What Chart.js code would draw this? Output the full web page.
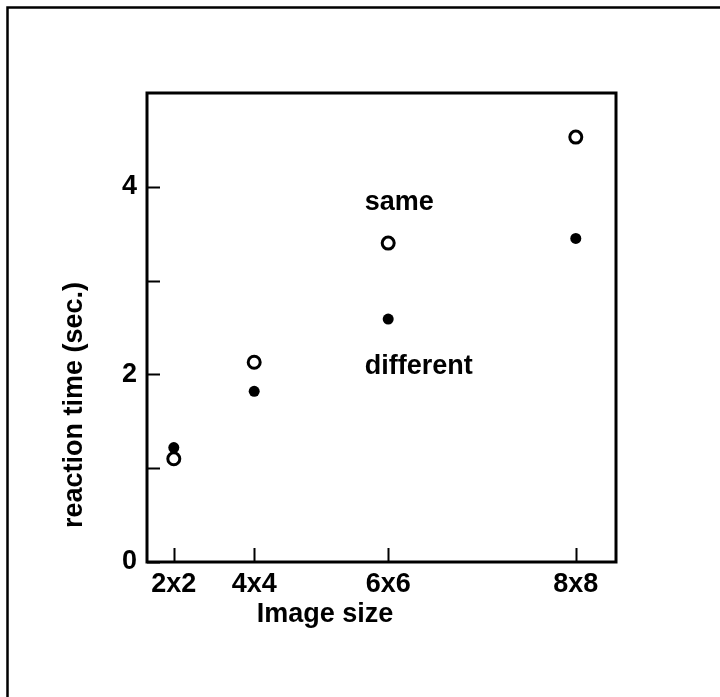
<!DOCTYPE html>
<html>
<head>
<meta charset="utf-8">
<style>
  html, body { margin: 0; padding: 0; background: #fff; }
  #wrap { position: relative; width: 720px; height: 697px; }
</style>
<script src="https://cdn.jsdelivr.net/npm/chart.js@4/dist/chart.umd.min.js"></script>
</head>
<body>
<div id="wrap"><canvas id="c" width="720" height="697"></canvas></div>
<script>
// ---- data ----
const categories = ['2x2', '4x4', '6x6', '8x8'];
const pixelCounts = [4, 16, 36, 64];          // x position = number of pixels in the image
const sameValues = [1.10, 2.13, 3.40, 4.53];  // open circles
const differentValues = [1.22, 1.82, 2.59, 3.45]; // filled circles
const yTickValues = [0, 1, 2, 3, 4];
const yTickLabels = ['0', '', '2', '', '4'];
const xTitle = 'Image size';
const yTitle = 'reaction time (sec.)';
const seriesLabels = ['same', 'different'];
const seriesLabelAnchors = [[32.5, 3.75], [32.5, 2.00]]; // data coords (left, baseline)

const FONT = 'bold 27px "Liberation Sans", Arial, Helvetica, sans-serif';

const framePlugin = {
  id: 'frame',
  afterDraw(chart) {
    const ctx = chart.ctx;
    const a = chart.chartArea;
    const xs = chart.scales.x, ys = chart.scales.y;
    ctx.save();
    // outer page frame (top and left visible)
    ctx.strokeStyle = '#000';
    ctx.lineWidth = 2.5;
    ctx.beginPath();
    ctx.moveTo(7.5, 730); ctx.lineTo(7.5, 7.5); ctx.lineTo(760, 7.5);
    ctx.stroke();
    // plot frame
    ctx.lineWidth = 3;
    ctx.strokeRect(a.left, a.top, a.right - a.left, a.bottom - a.top);
    // inward ticks
    ctx.lineWidth = 2;
    ctx.beginPath();
    yTickValues.forEach(v => {
      const y = Math.round(ys.getPixelForValue(v)) + 0.5;
      ctx.moveTo(a.left, y); ctx.lineTo(a.left + 13, y);
    });
    pixelCounts.forEach(v => {
      const x = Math.round(xs.getPixelForValue(v)) + 0.5;
      ctx.moveTo(x, a.bottom); ctx.lineTo(x, a.bottom - 14);
    });
    ctx.stroke();
    // text
    ctx.fillStyle = '#000';
    ctx.font = FONT;
    ctx.textAlign = 'left';
    ctx.textBaseline = 'alphabetic';
    seriesLabels.forEach((t, i) => {
      const [dx, dy] = seriesLabelAnchors[i];
      ctx.fillText(t, xs.getPixelForValue(dx), ys.getPixelForValue(dy));
    });
    ctx.textAlign = 'center';
    ctx.fillText(xTitle, 325, 622);
    ctx.translate(82, 405);
    ctx.rotate(-Math.PI / 2);
    ctx.fillText(yTitle, 0, 0);
    ctx.restore();
  }
};

new Chart(document.getElementById('c'), {
  type: 'scatter',
  data: {
    datasets: [
      {
        label: seriesLabels[0],
        data: pixelCounts.map((x, i) => ({ x, y: sameValues[i] })),
        pointRadius: 6,
        pointBorderWidth: 3,
        pointBorderColor: '#000',
        pointBackgroundColor: '#fff',
        pointHoverRadius: 6,
        showLine: false
      },
      {
        label: seriesLabels[1],
        data: pixelCounts.map((x, i) => ({ x, y: differentValues[i] })),
        pointRadius: 5.5,
        pointBorderWidth: 0,
        pointBorderColor: '#000',
        pointBackgroundColor: '#000',
        pointHoverRadius: 5.5,
        showLine: false
      }
    ]
  },
  options: {
    responsive: false,
    animation: false,
    events: [],
    layout: { padding: { left: 0, top: 93, right: 104, bottom: 0 } },
    plugins: { legend: { display: false }, tooltip: { enabled: false } },
    scales: {
      x: {
        type: 'linear',
        min: 0, max: 70,
        grid: { display: false, drawTicks: false },
        border: { display: false },
        afterBuildTicks(scale) { scale.ticks = pixelCounts.map(v => ({ value: v })); },
        afterFit(scale) { scale.height = 135; },
        ticks: {
          padding: 6,
          color: '#000',
          font: { family: '"Liberation Sans", Arial, Helvetica, sans-serif', size: 27, weight: 'bold' },
          maxRotation: 0,
          autoSkip: false,
          callback: (v) => categories[pixelCounts.indexOf(v)] ?? ''
        }
      },
      y: {
        type: 'linear',
        min: 0, max: 5,
        grid: { display: false, drawTicks: false },
        border: { display: false },
        afterBuildTicks(scale) { scale.ticks = yTickValues.map(v => ({ value: v })); },
        afterFit(scale) { scale.width = 147; },
        ticks: {
          padding: 10,
          color: '#000',
          font: { family: '"Liberation Sans", Arial, Helvetica, sans-serif', size: 27, weight: 'bold' },
          autoSkip: false,
          callback: (v) => yTickLabels[yTickValues.indexOf(v)] ?? ''
        }
      }
    }
  },
  plugins: [framePlugin]
});
</script>
</body>
</html>
